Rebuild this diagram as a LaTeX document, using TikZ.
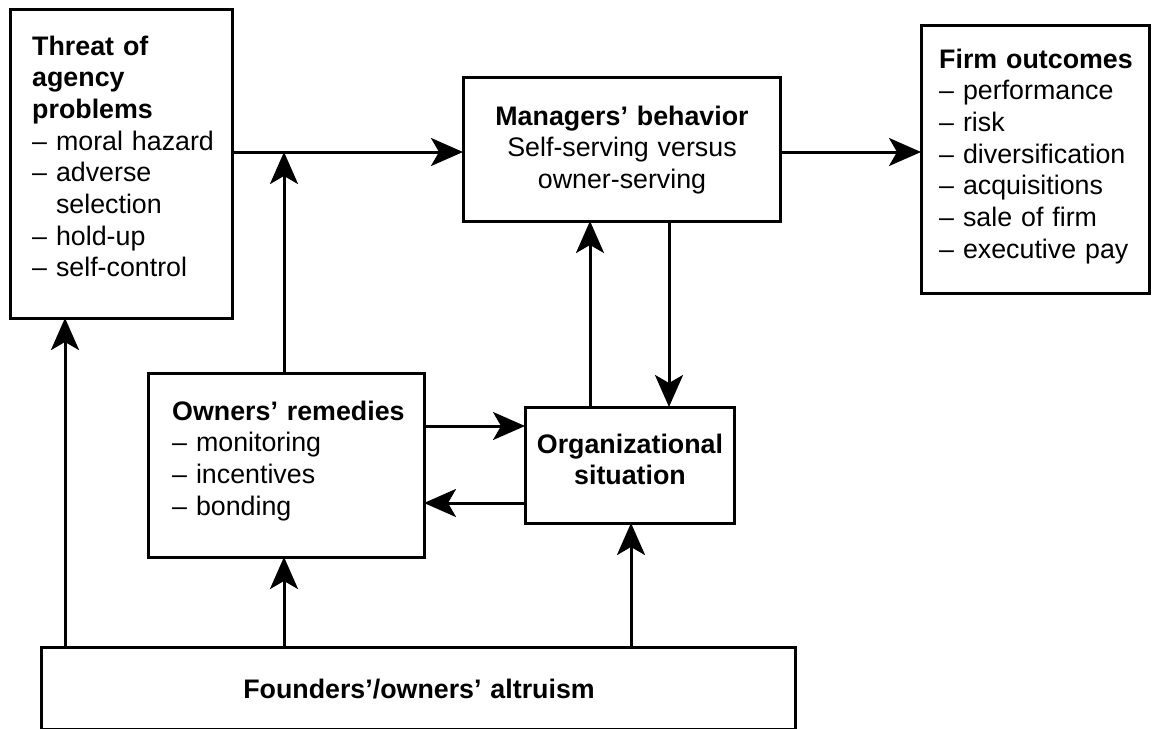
\documentclass[tikz,border=0pt]{standalone}
\usepackage{fontspec}
\setmainfont{Liberation Sans}
\usetikzlibrary{arrows.meta}
\begin{document}
\begin{tikzpicture}[x=1pt, y=-1pt,
  box/.style={draw, line width=3pt, rectangle, inner sep=0pt, outer sep=0pt},
  lbl/.style={inner sep=0pt, font=\fontsize{26.8}{31.7}\selectfont, text width=#1},
  arr/.style={line width=3pt, -{Stealth[length=32pt, width=28pt, inset=8pt]}}]
\useasboundingbox (0,0) rectangle (1153,728);

% boxes
\node[box, minimum width=222pt, minimum height=309pt] (threat)   at (121,163.5) {};
\node[box, minimum width=317pt, minimum height=144pt] (managers) at (621.5,149) {};
\node[box, minimum width=228pt, minimum height=268pt] (firm)     at (1035,159) {};
\node[box, minimum width=276pt, minimum height=184pt] (owners)   at (286,465) {};
\node[box, minimum width=209pt, minimum height=116pt] (org)      at (629.5,465) {};
\node[box, minimum width=754pt, minimum height=82pt]  (founders) at (418,688) {};

% box texts
\node[lbl=200pt, align=left, anchor=base west] (threattxt) at (32,55)
  {\textbf{Threat of}\\\textbf{agency}\\\textbf{problems}\\– moral hazard\\– adverse\\\phantom{– }selection\\– hold-up\\– self-control};
\node[lbl=300pt, align=center, anchor=base] (managerstxt) at (622,125)
  {\textbf{Managers’ behavior}\\Self-serving versus\\owner-serving};
\node[lbl=205pt, align=left, anchor=base west] (firmtxt) at (939,68)
  {\textbf{Firm outcomes}\\– performance\\– risk\\– diversification\\– acquisitions\\– sale of firm\\– executive pay};
\node[lbl=240pt, align=left, anchor=base west] (ownerstxt) at (172,420)
  {\textbf{Owners’ remedies}\\– monitoring\\– incentives\\– bonding};
\node[lbl=200pt, align=center, anchor=base] (orgtxt) at (630,453)
  {\textbf{Organizational}\\\textbf{situation}};
\node[lbl=700pt, align=center, anchor=base] (founderstxt) at (419,698)
  {\textbf{Founders’/owners’ altruism}};

% connectors
\coordinate (tee) at (284,152);
\draw[arr] (threat.east |- 0,152) -- (managers.west |- 0,152);
\draw[arr] (owners.north -| tee) -- (tee);
\draw[arr] (managers.east |- 0,152) -- (firm.west |- 0,152);
\draw[arr] (org.north -| 590,0) -- (managers.south -| 590,0);
\draw[arr] (managers.south -| 669,0) -- (org.north -| 669,0);
\draw[arr] (owners.east |- 0,426) -- (org.west |- 0,426);
\draw[arr] (org.west |- 0,503) -- (owners.east |- 0,503);
\draw[arr] (founders.north -| 65,0) -- (threat.south -| 65,0);
\draw[arr] (founders.north -| 284,0) -- (owners.south -| 284,0);
\draw[arr] (founders.north -| 631,0) -- (org.south -| 631,0);
\end{tikzpicture}
\end{document}
